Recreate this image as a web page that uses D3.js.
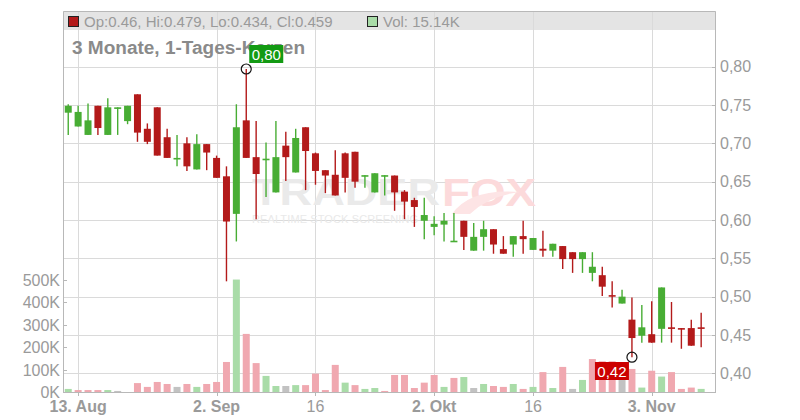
<!DOCTYPE html>
<html><head><meta charset="utf-8">
<script src="https://cdn.jsdelivr.net/npm/d3@7"></script>
<style>html,body{margin:0;padding:0;background:#fff;} svg{display:block;font-family:"Liberation Sans",Arial,Helvetica,sans-serif;}</style>
</head><body><svg id="c" width="800" height="420"></svg>
<script>
const dates = [
"2025-08-12","2025-08-13","2025-08-14","2025-08-15","2025-08-18","2025-08-19","2025-08-20","2025-08-21","2025-08-22",
"2025-08-25","2025-08-26","2025-08-27","2025-08-28","2025-08-29","2025-09-01","2025-09-02","2025-09-03","2025-09-04",
"2025-09-05","2025-09-08","2025-09-09","2025-09-10","2025-09-11","2025-09-12","2025-09-15","2025-09-16","2025-09-17",
"2025-09-18","2025-09-19","2025-09-22","2025-09-23","2025-09-24","2025-09-25","2025-09-26","2025-09-29","2025-09-30",
"2025-10-01","2025-10-02","2025-10-03","2025-10-06","2025-10-07","2025-10-08","2025-10-09","2025-10-10","2025-10-13",
"2025-10-14","2025-10-15","2025-10-16","2025-10-17","2025-10-20","2025-10-21","2025-10-22","2025-10-23","2025-10-24",
"2025-10-27","2025-10-28","2025-10-29","2025-10-30","2025-10-31","2025-11-03","2025-11-04","2025-11-05","2025-11-06",
"2025-11-07","2025-11-10"];
const open  = [0.740,0.722,0.711,0.749,0.711,0.746,0.729,0.764,0.719,0.747,0.708,0.680,0.700,0.666,0.699,0.681,0.657,0.608,0.730,0.682,
               0.679,0.636,0.697,0.662,0.721,0.687,0.665,0.659,0.687,0.689,0.6575,0.636,0.6575,0.658,0.637,0.626,0.599,0.591,0.594,0.5725,
               0.599,0.560,0.578,0.588,0.562,0.568,0.579,0.561,0.5625,0.560,0.566,0.558,0.549,0.531,0.528,0.502,0.491,0.470,0.449,0.451,
               0.458,0.460,0.459,0.459,0.460];
const high  = [0.751,0.749,0.752,0.749,0.759,0.747,0.749,0.764,0.726,0.747,0.719,0.711,0.708,0.712,0.699,0.684,0.670,0.751,0.797,0.729,
               0.701,0.729,0.715,0.719,0.721,0.688,0.665,0.691,0.688,0.689,0.6585,0.661,0.6585,0.658,0.639,0.629,0.629,0.605,0.609,0.609,
               0.599,0.596,0.599,0.588,0.579,0.579,0.599,0.5765,0.586,0.569,0.566,0.558,0.558,0.558,0.539,0.520,0.509,0.499,0.489,0.494,
               0.512,0.493,0.459,0.470,0.479];
const low   = [0.711,0.722,0.711,0.711,0.711,0.711,0.725,0.702,0.699,0.684,0.681,0.670,0.664,0.666,0.665,0.655,0.520,0.572,0.681,0.601,
               0.630,0.636,0.651,0.662,0.639,0.646,0.635,0.632,0.636,0.642,0.642,0.636,0.632,0.612,0.601,0.591,0.575,0.580,0.572,0.5725,
               0.561,0.560,0.560,0.556,0.556,0.552,0.556,0.561,0.552,0.552,0.536,0.531,0.531,0.520,0.501,0.486,0.491,0.421,0.440,0.440,
               0.440,0.440,0.432,0.436,0.434];
const close = [0.749,0.741,0.730,0.720,0.747,0.747,0.749,0.714,0.702,0.684,0.681,0.681,0.670,0.699,0.688,0.655,0.598,0.721,0.681,0.660,
               0.680,0.682,0.682,0.707,0.690,0.664,0.658,0.632,0.655,0.650,0.6585,0.661,0.6585,0.636,0.624,0.617,0.6065,0.595,0.599,0.573,
               0.578,0.578,0.588,0.568,0.556,0.579,0.575,0.5765,0.560,0.569,0.549,0.549,0.558,0.539,0.513,0.500,0.500,0.446,0.460,0.440,
               0.512,0.458,0.457,0.436,0.459];
const volumeK = [15,10,10,10,10,6,0,41,24,46,37,24,37,24,37,46,135,502,260,130,
                 73,28,28,32,32,83,10,122,43,32,15,19,6,77,77,19,43,77,24,64,
                 68,19,37,28,24,37,15,24,90,19,113,15,55,148,138,138,55,104,21,96,
                 70,90,15,21,15.14];
const priceTicks = [0.40,0.45,0.50,0.55,0.60,0.65,0.70,0.75,0.80];
const volumeTicks = [0,100,200,300,400,500];
const xTickDates = ["2025-08-13","2025-09-02","2025-09-16","2025-10-02","2025-10-16","2025-11-03"];
const xTickLabels = ["13. Aug","2. Sep","16","2. Okt","16","3. Nov"];
const xTickBold = [true,true,false,true,false,true];
const title = "3 Monate, 1-Tages-Kerzen";

const C = {red:"#b31a1a", green:"#48ad34", vRed:"#f0a8b0", vGreen:"#a9dca8", vGray:"#c2c2c2",
           grid:"#dadada", axis:"#b8b8b8", text:"#9a9a9a"};
const L = 63, R = 716, T = 11, B = 392;

const svg = d3.select("#c");
const x = d3.scaleLinear().domain([-0.53, 65.5]).range([L, R]);
const y = d3.scaleLinear().domain([0.40, 0.80]).range([373.3, 66.7]);
const yv = d3.scaleLinear().domain([0, 500]).range([392.3, 280]);
const n = dates.length;
const idx = d3.range(n);
const tickIdx = xTickDates.map(d => dates.indexOf(d));

// legend bar background
svg.append("rect").attr("x", L).attr("y", T).attr("width", R-L).attr("height", 19).attr("fill", "#e4e4e4");

// grid
svg.append("g").selectAll("line").data(priceTicks).join("line")
  .attr("x1", L).attr("x2", R).attr("y1", d => Math.round(y(d))+0.5).attr("y2", d => Math.round(y(d))+0.5)
  .attr("stroke", C.grid).attr("stroke-width", 1);
svg.append("g").selectAll("line").data(tickIdx).join("line")
  .attr("x1", d => Math.round(x(d))+0.5).attr("x2", d => Math.round(x(d))+0.5).attr("y1", T).attr("y2", B)
  .attr("stroke", C.grid).attr("stroke-width", 1);

// watermark
const wm = svg.append("g");
wm.append("text").attr("x", 252).attr("y", 205).attr("font-size", 37).attr("font-weight", "bold")
  .attr("fill", "#eaeaea").attr("textLength", 188).attr("lengthAdjust", "spacingAndGlyphs").text("TRADER");
wm.append("text").attr("x", 442).attr("y", 206).attr("font-size", 39).attr("font-weight", "bold")
  .attr("fill", "#fcdadb").attr("textLength", 94).attr("lengthAdjust", "spacingAndGlyphs").text("FOX");
wm.append("path").attr("d", "M452,214 Q470,188 520,192 Q488,196 470,214 Z").attr("fill", "#fde4e5");
wm.append("text").attr("x", 252).attr("y", 223).attr("font-size", 11)
  .attr("fill", "#e9e9e9").attr("textLength", 166).attr("lengthAdjust", "spacing").text("REALTIME STOCK SCREENING");

// volume bars
const vcol = i => {
  if (i === 0) return C.vGreen;
  if (close[i] > close[i-1]) return C.vGreen;
  if (close[i] < close[i-1]) return C.vRed;
  return C.vGray;
};
svg.append("g").selectAll("rect").data(idx).join("rect")
  .attr("x", i => x(i) - 3.5).attr("width", 7)
  .attr("y", i => yv(volumeK[i])).attr("height", i => yv(0) - yv(volumeK[i]))
  .attr("fill", vcol);

// candles
const ccol = i => close[i] >= open[i] ? C.green : C.red;
const cg = svg.append("g");
cg.selectAll("line").data(idx).join("line")
  .attr("x1", i => x(i)).attr("x2", i => x(i))
  .attr("y1", i => y(high[i])).attr("y2", i => y(low[i]))
  .attr("stroke", ccol).attr("stroke-width", 1.4);
cg.selectAll("rect").data(idx).join("rect")
  .attr("x", i => x(i) - 3.5).attr("width", 7)
  .attr("y", i => Math.min(y(open[i]), y(close[i])))
  .attr("height", i => Math.max(1.6, Math.abs(y(open[i]) - y(close[i]))))
  .attr("fill", ccol);

// frame
svg.append("path").attr("d", `M${L+0.5},${B} V${T+0.5} H${R-0.5} V${B}`).attr("fill", "none").attr("stroke", C.axis);
svg.append("line").attr("x1", L).attr("x2", R).attr("y1", B+0.5).attr("y2", B+0.5).attr("stroke", C.axis);

// price axis (right)
const pa = svg.append("g");
pa.selectAll("line").data(priceTicks).join("line")
  .attr("x1", R-4).attr("x2", R).attr("y1", d => Math.round(y(d))+0.5).attr("y2", d => Math.round(y(d))+0.5)
  .attr("stroke", C.axis);
pa.selectAll("text").data(priceTicks).join("text")
  .attr("x", 720).attr("y", d => y(d)).attr("dy", "0.36em").attr("font-size", 16).attr("fill", C.text)
  .text(d => d3.format(".2f")(d).replace(".", ","));

// volume axis (left)
const va = svg.append("g");
va.selectAll("line").data(volumeTicks).join("line")
  .attr("x1", L).attr("x2", L+4).attr("y1", d => Math.round(yv(d))+0.5).attr("y2", d => Math.round(yv(d))+0.5)
  .attr("stroke", C.axis);
va.selectAll("text").data(volumeTicks).join("text")
  .attr("x", 60).attr("y", d => yv(d)).attr("dy", "0.36em").attr("text-anchor", "end")
  .attr("font-size", 16).attr("fill", C.text).text(d => d + "K");

// x axis
const xa = svg.append("g");
xa.selectAll("line").data(tickIdx).join("line")
  .attr("x1", d => Math.round(x(d))+0.5).attr("x2", d => Math.round(x(d))+0.5).attr("y1", B).attr("y2", B+4)
  .attr("stroke", C.axis);
xa.selectAll("text").data(tickIdx).join("text")
  .attr("x", d => x(d)).attr("y", 412).attr("text-anchor", "middle").attr("font-size", 16)
  .attr("font-weight", (d, k) => xTickBold[k] ? "bold" : "normal").attr("fill", C.text)
  .text((d, k) => xTickLabels[k]);

// legend
const last = n - 1;
const lg = svg.append("g");
lg.append("rect").attr("x", 68.5).attr("y", 16.5).attr("width", 10).attr("height", 10)
  .attr("fill", close[last] >= open[last] ? C.green : C.red).attr("stroke", "#222");
lg.append("text").attr("x", 84).attr("y", 27).attr("font-size", 15).attr("fill", C.text)
  .text(`Op:${open[last]}, Hi:${high[last]}, Lo:${low[last]}, Cl:${close[last]}`);
lg.append("rect").attr("x", 367.5).attr("y", 16.5).attr("width", 10).attr("height", 10)
  .attr("fill", vcol(last)).attr("stroke", "#222");
lg.append("text").attr("x", 383).attr("y", 27).attr("font-size", 15).attr("fill", C.text)
  .text(`Vol: ${volumeK[last]}K`);

// title
svg.append("text").attr("x", 72).attr("y", 54).attr("font-size", 18).attr("font-weight", "bold")
  .attr("fill", "#8a8a8a").attr("textLength", 233).attr("lengthAdjust", "spacingAndGlyphs").text(title);

// max / min markers
const iMax = d3.maxIndex(high), iMin = d3.minIndex(low);
const fmt = v => d3.format(".2f")(v).replace(".", ",");
svg.append("circle").attr("cx", x(iMax)).attr("cy", y(high[iMax])).attr("r", 5)
  .attr("fill", "none").attr("stroke", "#111").attr("stroke-width", 1.2);
svg.append("rect").attr("x", x(iMax) + 3).attr("y", 45).attr("width", 34).attr("height", 18).attr("fill", "#139a13");
svg.append("text").attr("x", x(iMax) + 20).attr("y", 59.5).attr("text-anchor", "middle").attr("font-size", 15)
  .attr("fill", "#fff").text(fmt(high[iMax]));
svg.append("circle").attr("cx", x(iMin)).attr("cy", y(low[iMin])).attr("r", 5)
  .attr("fill", "none").attr("stroke", "#111").attr("stroke-width", 1.2);
svg.append("rect").attr("x", x(iMin) - 37).attr("y", 362).attr("width", 34).attr("height", 18).attr("fill", "#cc0000");
svg.append("text").attr("x", x(iMin) - 20).attr("y", 376.5).attr("text-anchor", "middle").attr("font-size", 15)
  .attr("fill", "#fff").text(fmt(low[iMin]));
</script></body></html>
